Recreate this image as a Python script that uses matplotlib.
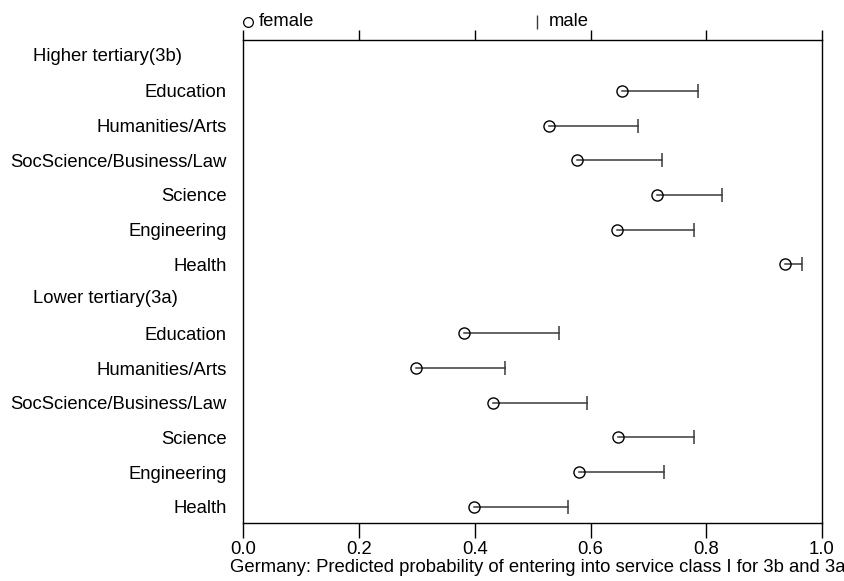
import numpy as np
import matplotlib
matplotlib.use("Agg")
import matplotlib.pyplot as plt
import matplotlib.transforms as mtransforms

plt.rcParams['font.family'] = ['Liberation Sans', 'DejaVu Sans']

categories = ["Higher tertiary(3b)", "Education", "Humanities/Arts", "SocScience/Business/Law",
              "Science", "Engineering", "Health",
              "Lower tertiary(3a)", "Education", "Humanities/Arts", "SocScience/Business/Law",
              "Science", "Engineering", "Health"]
is_header = [True, False, False, False, False, False, False,
             True, False, False, False, False, False, False]
female = [np.nan, 0.654, 0.528, 0.576, 0.714, 0.646, 0.936,
          np.nan, 0.381, 0.299, 0.431, 0.647, 0.580, 0.398]
male = [np.nan, 0.786, 0.682, 0.723, 0.828, 0.778, 0.966,
        np.nan, 0.545, 0.452, 0.594, 0.778, 0.727, 0.561]
xticks = [0.0, 0.2, 0.4, 0.6, 0.8, 1.0]
xtick_labels = ["0.0", "0.2", "0.4", "0.6", "0.8", "1.0"]
xlabel = "Germany: Predicted probability of entering into service class I for 3b and 3a"

W, H = 845, 581
fig = plt.figure(figsize=(W / 100, H / 100), dpi=100)
left, right, top, bottom = 243.5, 822, 40, 523
ax = fig.add_axes([left / W, 1 - bottom / H, (right - left) / W, (bottom - top) / H])

fs = 13.3
line_col = '#3a3a3a'
y = np.arange(len(categories))
for yi, f, m in zip(y, female, male):
    if np.isnan(f):
        continue
    ax.plot([f, m], [yi, yi], color=line_col, lw=1.1, zorder=2)
    ax.plot([m], [yi], marker='|', markersize=10.5, mew=1.1, color=line_col, zorder=3)
    ax.plot([f], [yi], marker='o', markersize=8, mfc='none', mec='black', mew=1.0, zorder=4)

ax.set_xlim(0, 1)
ax.set_ylim(len(categories) - 1 + 0.47, -0.47)

# y labels
ax.set_yticks(y)
ax.set_yticklabels([("" if h else c) for c, h in zip(categories, is_header)], fontsize=fs)
ax.tick_params(axis='y', length=0, pad=12)
blend = mtransforms.blended_transform_factory(fig.transFigure, ax.transData)
for yi, c, h in zip(y, categories, is_header):
    if h:
        ax.text(33 / W, yi, c, transform=blend, ha='left', va='center', fontsize=fs)

# x axis bottom
ax.set_xticks(xticks)
ax.set_xticklabels(xtick_labels, fontsize=fs)
ax.tick_params(axis='x', direction='out', length=11, width=1, pad=2, top=True,
               labeltop=False)
# top ticks shorter
for t in ax.xaxis.get_major_ticks():
    t.tick2line.set_markersize(7)

for s in ax.spines.values():
    s.set_linewidth(1)
    s.set_color('black')

ax.set_xlabel(xlabel, fontsize=fs, labelpad=3)
ax.xaxis.set_label_coords(0.509, -0.075)

# legend on top
bl = mtransforms.blended_transform_factory(ax.transData, fig.transFigure)
ly = 1 - 21.5 / H
ax.plot([0.0075], [ly], transform=bl, marker='o', markersize=7, mfc='none', mec='black',
        mew=0.9, clip_on=False)
ax.text(15 / 578.5, ly, "female", transform=bl, ha='left', va='center', fontsize=fs)
ax.plot([0.508], [ly], transform=bl, marker='|', markersize=10, mew=1.0, color=line_col,
        clip_on=False)
ax.text(0.528, ly, "male", transform=bl, ha='left', va='center', fontsize=fs)

fig.savefig("out.png", dpi=100)
